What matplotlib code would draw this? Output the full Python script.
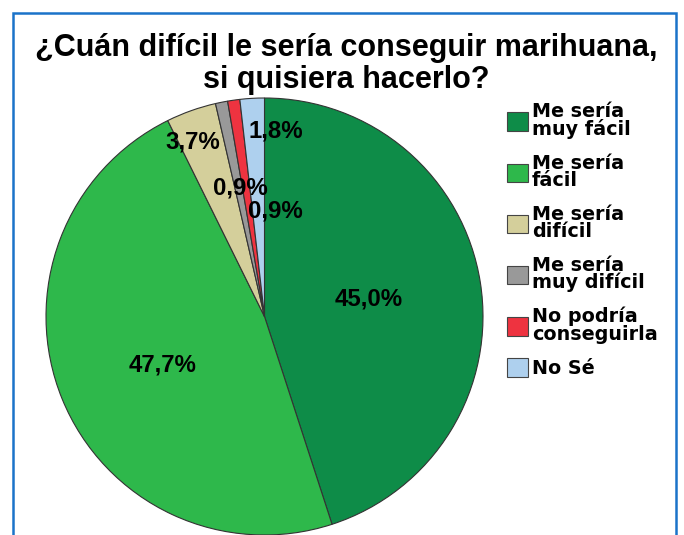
import matplotlib
matplotlib.use("Agg")
import matplotlib.pyplot as plt
from matplotlib.patches import Rectangle, Patch

categories = ["Me sería\nmuy fácil", "Me sería\nfácil", "Me sería\ndifícil",
              "Me sería\nmuy difícil", "No podría\nconseguirla", "No Sé"]
values = [45.0, 47.7, 3.7, 0.9, 0.9, 1.8]
labels = ["45,0%", "47,7%", "3,7%", "0,9%", "0,9%", "1,8%"]
colors = ["#0e8c48", "#2eb84b", "#d4cf9b", "#999999", "#ee3340", "#aed0ee"]
title = "¿Cuán difícil le sería conseguir marihuana,\nsi quisiera hacerlo?"

W, H = 684, 535
fig = plt.figure(figsize=(W / 100, H / 100), dpi=100)

# frame
fig.patches.append(Rectangle((13 / W, -0.05), (676 - 13) / W, (H - 13) / H + 0.05,
                             transform=fig.transFigure, fill=False,
                             edgecolor="#1a73c9", linewidth=1.8))

ax = fig.add_axes([46 / W, 0 / H, 437 / W, 437 / H])
wedges, texts = ax.pie(values, colors=colors, startangle=90, counterclock=False,
                       wedgeprops=dict(edgecolor="#333333", linewidth=0.8),
                       labels=labels, labeldistance=0.5,
                       textprops=dict(family="Liberation Sans", weight="bold",
                                      fontsize=17.3, color="black",
                                      ha="center", va="center"))
ax.set_xlim(-1, 1)
ax.set_ylim(-1, 1)
ax.set_aspect("equal")

# manual label placement for small slices
pos = {2: (-0.33, 0.80), 3: (-0.11, 0.59), 4: (0.05, 0.485), 5: (0.05, 0.85)}
for i, p in pos.items():
    texts[i].set_position(p)
texts[0].set_position((0.475, 0.08))
texts[1].set_position((-0.465, -0.22))

fig.text(346 / W, 1 - 64 / H, title, ha="center", va="center",
         family="Liberation Sans", weight="bold", fontsize=22,
         linespacing=1.13)

handles = [Patch(facecolor=c, edgecolor="#444444", linewidth=0.8) for c in colors]
fig.legend(handles, categories, loc="upper left",
           bbox_to_anchor=(507 / W, 1 - 102 / H),
           frameon=False,
           prop=dict(family="DejaVu Sans", weight="bold", size=13.8),
           handlelength=1.1, handleheight=1.1, handletextpad=0.2,
           labelspacing=0.75, borderpad=0, borderaxespad=0)
for t in fig.legends[0].get_texts():
    t.set_linespacing(0.9)

fig.savefig("out.png", dpi=100)
